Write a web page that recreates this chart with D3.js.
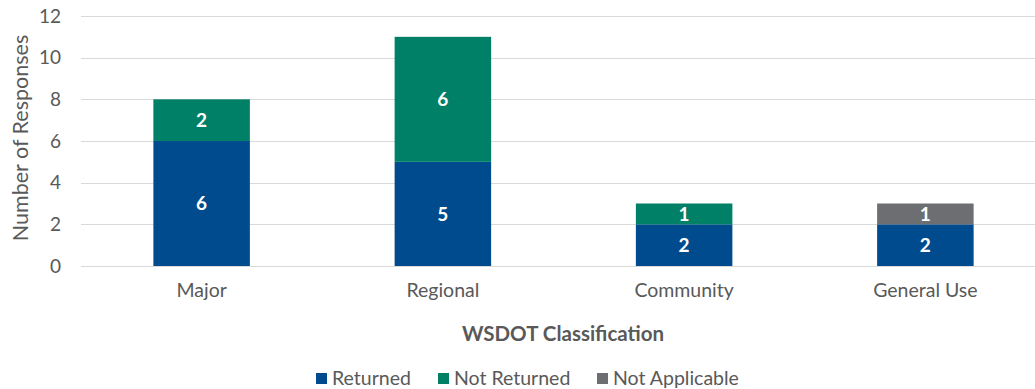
<!DOCTYPE html>
<html>
<head>
<meta charset="utf-8">
<script src="https://cdn.jsdelivr.net/npm/d3@7"></script>
<style>
  html, body { margin: 0; padding: 0; background: #fff; }
  svg { display: block; font-family: Lato, "Open Sans", sans-serif; }
</style>
</head>
<body>
<svg id="chart" width="1035" height="389"></svg>
<script>
// Survey responses by WSDOT classification
const categories = ["Major", "Regional", "Community", "General Use"];
const seriesNames = ["Returned", "Not Returned", "Not Applicable"];
const returned = [6, 5, 2, 2];
const notReturned = [2, 6, 1, 0];
const notApplicable = [0, 0, 0, 1];
const yTicks = [0, 2, 4, 6, 8, 10, 12];
const colors = ["#004B8D", "#008066", "#6D6E71"];

const svg = d3.select("#chart");
const plot = { left: 81, right: 1046, top: 16, bottom: 266 };
const font = "Lato, 'Open Sans', sans-serif";

const x = d3.scaleBand().domain(categories).range([plot.left, plot.right]).paddingInner(0.6).paddingOuter(0.3);
const y = d3.scaleLinear().domain([0, 12]).range([plot.bottom, plot.top]);

const rows = categories.map((c, i) => ({
  category: c,
  "Returned": returned[i],
  "Not Returned": notReturned[i],
  "Not Applicable": notApplicable[i]
}));
const stacked = d3.stack().keys(seriesNames)(rows);

// gridlines
svg.append("g")
  .selectAll("line")
  .data(yTicks)
  .join("line")
  .attr("x1", plot.left)
  .attr("x2", 1035)
  .attr("y1", d => Math.round(y(d)) + 0.5)
  .attr("y2", d => Math.round(y(d)) + 0.5)
  .attr("stroke", "#d9d9d9")
  .attr("stroke-width", 1);

// y axis labels
const yAxis = d3.axisLeft(y).tickValues(yTicks).tickSize(0).tickPadding(0);
const yg = svg.append("g").attr("transform", "translate(61,0)").call(yAxis);
yg.select(".domain").remove();
yg.selectAll("text").attr("fill", "#595959").style("font-size", "19px").style("font-family", font);

// x axis labels
const xAxis = d3.axisBottom(x).tickSize(0).tickPadding(0);
const xg = svg.append("g").attr("transform", "translate(0,283)").call(xAxis);
xg.select(".domain").remove();
xg.selectAll("text").attr("fill", "#595959").style("font-size", "19.5px").style("font-family", font);

// stacked bars
const layers = svg.append("g")
  .selectAll("g")
  .data(stacked)
  .join("g")
  .attr("fill", (d, i) => colors[i]);

layers.selectAll("rect")
  .data(d => d.filter(s => s[1] - s[0] > 0))
  .join("rect")
  .attr("x", d => x(d.data.category))
  .attr("width", x.bandwidth())
  .attr("y", d => y(d[1]))
  .attr("height", d => y(d[0]) - y(d[1]));

// value labels
layers.selectAll("text")
  .data(d => d.filter(s => s[1] - s[0] > 0).map(s => ({ s, key: d.key })))
  .join("text")
  .attr("x", d => x(d.s.data.category) + x.bandwidth() / 2)
  .attr("y", d => (y(d.s[0]) + y(d.s[1])) / 2)
  .attr("dy", "0.36em")
  .attr("text-anchor", "middle")
  .attr("fill", "#fff")
  .style("font-size", "19px")
  .style("font-weight", "bold")
  .text(d => d.s[1] - d.s[0]);

// axis titles
svg.append("text")
  .attr("transform", "translate(20,138) rotate(-90)")
  .attr("text-anchor", "middle")
  .attr("dy", "0.35em")
  .attr("fill", "#595959")
  .style("font-size", "21.5px")
  .text("Number of Responses");

svg.append("text")
  .attr("x", 563)
  .attr("y", 334)
  .attr("dy", "0.35em")
  .attr("text-anchor", "middle")
  .attr("fill", "#595959")
  .style("font-size", "20.5px")
  .style("font-weight", "bold")
  .text("WSDOT Classification");

// legend
const legendX = [316, 438, 597];
const legend = svg.append("g")
  .selectAll("g")
  .data(seriesNames)
  .join("g")
  .attr("transform", (d, i) => `translate(${legendX[i]},378)`);
legend.append("rect")
  .attr("x", 0).attr("y", -5)
  .attr("width", 11).attr("height", 11)
  .attr("fill", (d, i) => colors[i]);
legend.append("text")
  .attr("x", 16)
  .attr("dy", "0.35em")
  .attr("fill", "#595959")
  .style("font-size", "19.5px")
  .text(d => d);
</script>
</body>
</html>
